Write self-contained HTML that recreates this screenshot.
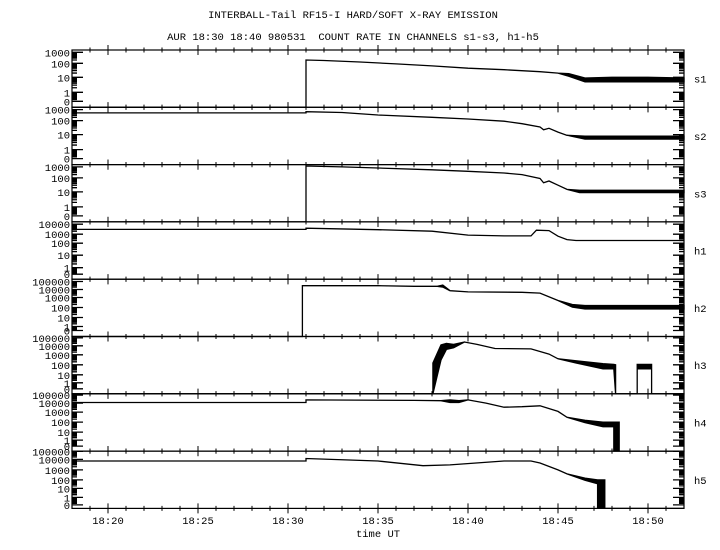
<!DOCTYPE html>
<html><head><meta charset="utf-8"><style>
html,body{margin:0;padding:0;background:#fff}
svg{display:block}
text{font-family:"Liberation Mono",monospace;font-size:10.5px;fill:#000}
</style></head><body>
<svg id="chart" width="720" height="550" viewBox="0 0 720 550">
<rect x="0" y="0" width="720" height="550" fill="#fff"/>
<text x="353" y="18" text-anchor="middle">INTERBALL-Tail RF15-I HARD/SOFT X-RAY EMISSION</text>
<text x="353" y="40" text-anchor="middle" xml:space="preserve">AUR 18:30 18:40 980531  COUNT RATE IN CHANNELS s1-s3, h1-h5</text>
<text x="378" y="537" text-anchor="middle">time UT</text>
<g id="panels"></g>
</svg>
<script>
// channel names
const channels = ["s1","s2","s3","h1","h2","h3","h4","h5"];
// axis tick labels per panel
const yLabelsS = ["0","1","10","100","1000"];
const yLabelsH1 = ["0","1","10","100","1000","10000"];
const yLabelsH = ["0","1","10","100","1000","10000","100000"];
const xTickLabels = ["18:20","18:25","18:30","18:35","18:40","18:45","18:50"];
const xTickMinutes = [20,25,30,35,40,45,50];
// series data: time in minutes after 18:00, hi/lo count rates (-1 = no data)
const s1T = [18,31,31,32,34,36,38,40,42,44,45,45.6,46.5,48,50,52];
const s1Hi = [-1,-1,200,180,130,90,65,45,35,25,20,18,9,10,10,9];
const s1Lo = [-1,-1,200,180,130,90,65,45,35,25,20,12,5,5,5,5];
const s2T = [18,31,31,33,35,38,40,42,43,44,44.2,44.5,45,45.5,46.5,52];
const s2Hi = [500,500,650,550,320,200,140,90,60,35,22,28,15,9,8,8];
const s2Lo = [500,500,650,550,320,200,140,90,60,35,22,28,15,9,5,5];
const s3T = [18,31,31,33,35,38,40,42,43,44,44.2,44.5,45,45.5,46.2,52];
const s3Hi = [-1,-1,1200,1000,800,550,400,280,200,90,45,60,30,15,13,13];
const s3Lo = [-1,-1,1200,1000,800,550,400,280,200,90,45,60,30,15,9,9];
const h1T = [18,31,31,35,38,40,42,43.5,43.8,44.5,45,45.5,46,52];
const h1Hi = [3000,3000,4000,2800,2000,800,650,650,2500,2300,600,250,200,200];
const h1Lo = [3000,3000,4000,2800,2000,800,650,650,2500,2300,600,250,200,200];
const h2T = [18,30.8,30.8,35,37,38.3,38.6,39,40,43,44,45,45.8,46.5,52];
const h2Hi = [-1,-1,30000,30000,25000,25000,35000,7000,5000,4500,3500,500,200,160,160];
const h2Lo = [-1,-1,30000,30000,25000,25000,20000,7000,5000,4500,3500,500,110,70,70];
const h3T = [18,38.05,38.05,38.5,38.8,39.2,39.8,40.5,41.5,43.5,44.5,45,46,47.5,48.1,48.2,48.2,49.4,49.4,50.2,50.2,52];
const h3Hi = [-1,-1,150,13000,20000,15000,30000,15000,5000,4500,1200,400,250,130,110,100,-1,-1,110,110,-1,-1];
const h3Lo = [-1,-1,-1,300,4000,6000,30000,15000,5000,4500,1200,400,150,40,40,-1,-1,-1,40,40,-1,-1];
const h4T = [18,31,31,37,38.5,39,39.5,40,41,42,43,44,45,45.5,46.5,47.5,48.1,48.1,48.4,48.4,52];
const h4Hi = [12000,12000,25000,22000,20000,25000,20000,25000,10000,3500,4000,5000,1200,300,150,100,100,100,100,-1,-1];
const h4Lo = [12000,12000,25000,22000,20000,12000,12000,25000,10000,3500,4000,5000,1200,300,90,35,35,-1,-1,-1,-1];
const h5T = [18,31,31,35,37.5,39,42,43.5,44,45,45.5,46.5,47.2,47.2,47.6,47.6,52];
const h5Hi = [7000,7000,13000,7000,2500,3000,7000,7000,4500,1000,400,150,100,100,100,-1,-1];
const h5Lo = [7000,7000,13000,7000,2500,3000,7000,7000,4500,1000,400,90,35,-1,-1,-1,-1];

const seriesT = [s1T,s2T,s3T,h1T,h2T,h3T,h4T,h5T];
const seriesHi = [s1Hi,s2Hi,s3Hi,h1Hi,h2Hi,h3Hi,h4Hi,h5Hi];
const seriesLo = [s1Lo,s2Lo,s3Lo,h1Lo,h2Lo,h3Lo,h4Lo,h5Lo];
const panelLabels = [yLabelsS,yLabelsS,yLabelsS,yLabelsH1,yLabelsH,yLabelsH,yLabelsH,yLabelsH];
// layout (pixel) config
const decadeOffsets = [[6,15,30,44,55],[6,15,30,44,55],[6,15,30,44,55],[5,11.5,24,36,45,55],[6,10,19,29,39,47,55],[5,11,19,29,39,48,56],[5,11,19,29,39,48,56],[3.5,11,20,28.5,38.5,49,57]];
const X0=72, X1=684, T0=18, T1=52, TOP=50, PH=57.3;
const NS="http://www.w3.org/2000/svg";
const root=document.getElementById('panels');
function xOf(t){return X0+(t-T0)*(X1-X0)/(T1-T0);}
function yOf(p,v){
  const bot=TOP+(p+1)*PH, off=decadeOffsets[p];
  if(v<0) return bot;
  let o;
  if(v<1) o=off[0]+(off[1]-off[0])*v;
  else{
    const k=Math.log10(v); const i=Math.floor(k);
    if(i+2>=off.length){ o=off[off.length-1]+(k-(off.length-2))*(off[off.length-1]-off[off.length-2]); }
    else o=off[i+1]+(off[i+2]-off[i+1])*(k-i);
  }
  o=Math.min(o,PH);
  return bot-o;
}
function mk(tag,attrs,parent){const e=document.createElementNS(NS,tag);for(const k in attrs)e.setAttribute(k,attrs[k]);(parent||root).appendChild(e);return e;}

for(let p=0;p<channels.length;p++){
  const top=TOP+p*PH, bot=top+PH;
  const g=mk('g',{});
  
  
  const fr=mk('rect',{x:X0,y:top,width:X1-X0,height:PH,fill:'none',stroke:'#000','stroke-width':1.2},g);
  
  
  let d='';
  for(let m=19;m<=51;m++){
    const x=xOf(m), L=(m%5===0)?5:2.5;
    d+=`M${x},${top-L}V${top+L}M${x},${bot-L}V${bot+L}`;
  }
  const tk=mk('path',{d:d,stroke:'#000','stroke-width':1,fill:'none'},g);
  
  
  const off=decadeOffsets[p]; let yd='';
  for(let i=0;i<off.length;i++){
    const y=bot-off[i];
    yd+=`M${X0},${y}h11M${X1},${y}h-11`;
    if(i<off.length-1){
      for(let m=2;m<=9;m++){
        const f=(i===0)?(m/10):Math.log10(m);
        const yy=bot-(off[i]+(off[i+1]-off[i])*f);
        yd+=`M${X0},${yy}h5M${X1},${yy}h-5`;
      }
    }
  }
  const yt=mk('path',{d:yd,stroke:'#000','stroke-width':1.3,fill:'none'},g);
  
  
  const labs=panelLabels[p];
  for(let i=0;i<labs.length;i++){
    const t=mk('text',{x:X0-2,y:bot-off[i]+4,'text-anchor':'end'},g);
    t.textContent=labs[i];
    
    
  }
  const cl=mk('text',{x:694,y:top+PH/2+4},g);
  cl.textContent=channels[p];
  
  
  const T=seriesT[p],H=seriesHi[p],Lo=seriesLo[p];
  let pts=[];
  for(let i=0;i<T.length;i++) pts.push(xOf(T[i]).toFixed(1)+','+yOf(p,H[i]).toFixed(1));
  for(let i=T.length-1;i>=0;i--) pts.push(xOf(T[i]).toFixed(1)+','+yOf(p,Lo[i]).toFixed(1));
  const s=mk('polygon',{points:pts.join(' '),fill:'#000',stroke:'#000','stroke-width':1.3,'stroke-linejoin':'miter'},g);
  
  
}
for(let i=0;i<xTickLabels.length;i++){
  const t=mk('text',{x:xOf(xTickMinutes[i]),y:524,'text-anchor':'middle'});
  t.textContent=xTickLabels[i];
  
  
}
</script>
</body></html>
